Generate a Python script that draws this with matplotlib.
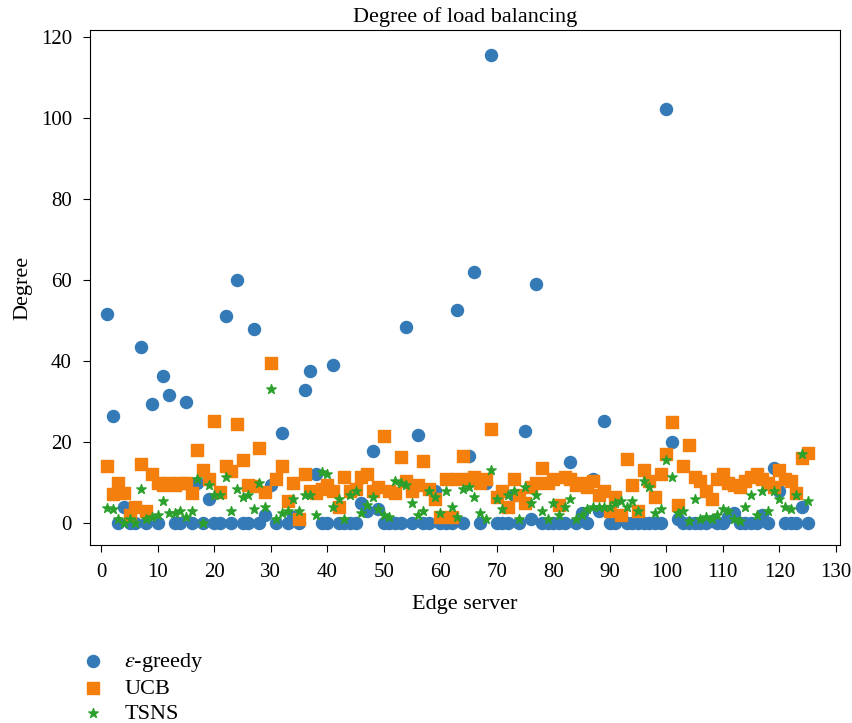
import matplotlib
matplotlib.use("Agg")
import matplotlib.pyplot as plt
import numpy as np

plt.rcParams['font.family'] = ['Liberation Serif', 'DejaVu Serif']
plt.rcParams['mathtext.fontset'] = 'stix'

servers = np.arange(1, 126)

eps_greedy = [
    51.5, 26.5, 0, 4, 0, 0, 43.5, 0, 29.3, 0,
    36.3, 31.5, 0, 0, 29.8, 0, 10, 0, 6, 0,
    0, 51.2, 0, 60, 0, 0, 47.8, 0, 2, 9.5,
    0, 22.3, 0, 1.5, 0, 32.8, 37.5, 12, 0, 0,
    39, 0, 0, 0, 0, 5, 3, 17.8, 3.5, 0,
    0, 0, 0, 48.3, 0, 21.8, 0, 0, 8, 0,
    0, 0, 52.5, 0, 16.5, 62, 0, 10, 115.5, 0,
    0, 0, 7, 0, 22.7, 1, 59, 0, 0, 0,
    0, 0, 15, 0, 2.5, 0, 11, 3, 25.3, 0,
    0, 2, 0, 0, 0, 0, 0, 0, 0, 102.3,
    20, 1, 0, 0, 0, 0, 0, 0.5, 0, 0,
    1.5, 2.5, 0, 0, 0, 0, 2, 0, 13.5, 8,
    0, 0, 0, 4, 0,
]

ucb = [
    14.2, 7.3, 9.8, 7.5, 2, 4, 14.7, 3, 12, 10,
    9.5, 9.8, 9.5, 10, 10, 7.5, 18, 13.2, 11, 25.3,
    7.7, 14, 12.8, 24.5, 15.5, 9.5, 9.2, 18.5, 7.7, 39.5,
    11, 14, 5.5, 9.8, 1, 12, 8, 7.5, 8.5, 9.5,
    8, 4, 11.5, 8, 8.5, 11.5, 12, 8, 9, 21.5,
    8, 7.5, 16.3, 10.5, 8, 9.5, 15.3, 8.5, 6, 1.5,
    11, 1.5, 11, 16.5, 11, 11.5, 10, 11, 23.2, 6.5,
    8, 4, 11, 7, 5, 9, 10, 13.5, 10, 11,
    4.5, 11.5, 11, 9.5, 10, 9, 10.5, 7, 8, 3,
    6.5, 2, 15.8, 9.5, 3, 13, 10.5, 6.5, 12, 17,
    25, 4.5, 14, 19.3, 11.5, 10.5, 8, 6, 11, 12,
    10, 9.5, 9, 10.5, 11.5, 12, 11, 10, 9, 13,
    11, 10.5, 7.5, 16, 17.2,
]

tsns = [
    3.8, 3.5, 1, 0, 1, 0, 8.5, 1, 1.5, 2,
    5.5, 2.5, 2.5, 3, 1.5, 3, 11, 0, 9.5, 7,
    7, 11.5, 3, 8.5, 6.5, 7, 3.5, 10, 4, 33,
    1, 2.5, 3, 6, 3, 7, 7, 2, 12.5, 12,
    4, 6, 1, 7, 8, 2.5, 4.5, 6.5, 3.5, 2,
    1.5, 10.5, 10, 9.5, 5, 2, 3, 8, 6.5, 2.5,
    8, 4, 1.5, 8.5, 9, 6.5, 2.5, 1, 13, 6,
    3.5, 7, 8, 1, 9, 5, 7, 3, 1, 5,
    2, 4, 6, 1, 2, 3.5, 4, 4, 4, 4,
    5, 5.5, 4, 5.5, 3, 10.5, 9, 2.5, 3.5, 15.5,
    11.5, 2.5, 3, 0.5, 6, 1, 1.5, 1, 2, 3.5,
    3, 1, 0.5, 4, 7, 2, 8, 3, 8, 6,
    4, 3.5, 7, 17, 5.5,
]

fig = plt.figure(figsize=(8.53, 7.23), dpi=100)
ax = fig.add_axes([0.1055, 0.2462, 0.879, 0.7123])

ax.scatter(servers, eps_greedy, s=75, marker='o', color='#337ab7',
           label=r'$\varepsilon$-greedy', zorder=2)
ax.scatter(servers, ucb, s=85, marker='s', color='#f47f0c',
           label='UCB', zorder=3)
ax.scatter(servers, tsns, s=50, marker='*', color='#2ca02c',
           label='TSNS', zorder=4)

ax.set_xlim(-2, 130.7)
ax.set_ylim(-5.4, 121.7)
ax.set_xticks(range(0, 131, 10))
ax.set_yticks(range(0, 121, 20))
ax.tick_params(labelsize=15, length=5, pad=8)
ax.set_xlabel("Edge server", fontsize=16, labelpad=9)
ax.set_ylabel("Degree", fontsize=16, labelpad=6)
ax.set_title("Degree of load balancing", fontsize=16, pad=6)

fig.legend(loc='upper left', bbox_to_anchor=(0.083, 0.1), frameon=False,
           fontsize=16, handletextpad=0.4, labelspacing=0.2,
           borderaxespad=0, borderpad=0)

fig.savefig("out.png", dpi=100)
